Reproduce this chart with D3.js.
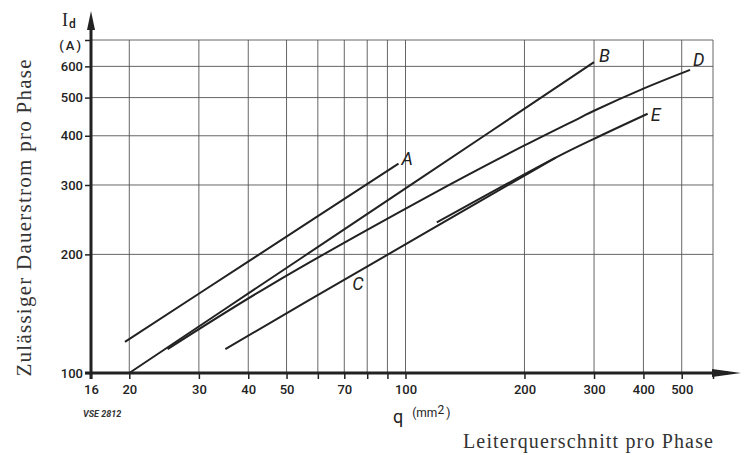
<!DOCTYPE html>
<html>
<head>
<meta charset="utf-8">
<script src="https://cdn.jsdelivr.net/npm/d3@7"></script>
<style>
  body { margin: 0; background: #fff; }
  .tick text { font-family: Roboto, sans-serif; font-weight: 500; font-size: 13px; fill: #222; }
  .curve-label { font-family: Roboto, sans-serif; font-style: italic; font-size: 18px; fill: #222; }
  .serif { font-family: "Liberation Serif", "Times New Roman", serif; fill: #333; }
</style>
</head>
<body>
<script>
// Cross-section q (mm2) against permitted continuous current Id (A), log-log
var xTicks = [16, 20, 30, 40, 50, 60, 70, 80, 90, 100, 200, 300, 400, 500, 600];
var xLabels = [16, 20, 30, 40, 50, 70, 100, 200, 300, 400, 500];
var yTicks = [100, 200, 300, 400, 500, 600, 700];
var yLabels = ["100", "200", "300", "400", "500", "600", "(A)"];

var curveNames = ["A", "B", "C", "D", "E"];
var curveA = [[19.5, 120], [42, 198], [96, 340]];
var curveB = [[20, 100], [55, 197], [102, 298], [300, 615]];
var curveC = [[35, 115], [57, 153], [115, 230], [200, 317], [240, 352]];
var curveD = [[25, 115], [45, 166], [115, 282], [200, 378], [277, 445], [300, 463], [400, 527], [525, 588]];
var curveE = [[120, 241], [240, 352], [300, 393], [410, 455]];
var curves = [curveA, curveB, curveC, curveD, curveE];

var w = 751;
var h = 455;

var svg = d3.select("body")
    .append("svg")
    .attr("width", w)
    .attr("height", h);

// log scales for both axes
var xScale = d3.scaleLog()
    .domain([16, 600])
    .range([91, 713]);
var yScale = d3.scaleLog()
    .domain([100, 700])
    .range([373, 40]);

// grid
svg.append("g")
    .selectAll("line")
    .data(xTicks.slice(1))
    .enter()
    .append("line")
    .attr("x1", function(d) { return xScale(d); })
    .attr("x2", function(d) { return xScale(d); })
    .attr("y1", yScale(700))
    .attr("y2", yScale(100))
    .attr("stroke", "#555")
    .attr("stroke-width", 0.9);

svg.append("g")
    .selectAll("line")
    .data(yTicks.slice(1))
    .enter()
    .append("line")
    .attr("x1", xScale(16))
    .attr("x2", xScale(600))
    .attr("y1", function(d) { return yScale(d); })
    .attr("y2", function(d) { return yScale(d); })
    .attr("stroke", "#555")
    .attr("stroke-width", 0.9);

// x axis ticks and labels
var xAxis = svg.append("g")
    .attr("transform", "translate(0," + yScale(100) + ")")
    .call(d3.axisBottom(xScale)
      .tickValues(xTicks)
      .tickSize(6)
      .tickPadding(6)
      .tickFormat(function(d) { return xLabels.indexOf(d) >= 0 ? d : ""; }));
xAxis.select(".domain").remove();
xAxis.selectAll(".tick line").attr("stroke", "#222").attr("stroke-width", 1.5);

// y axis ticks and labels
var yAxis = svg.append("g")
    .attr("transform", "translate(" + xScale(16) + ",0)")
    .call(d3.axisLeft(yScale)
      .tickValues(yTicks)
      .tickSize(6)
      .tickPadding(2)
      .tickFormat(function(d, i) { return yLabels[i]; }));
yAxis.select(".domain").remove();
yAxis.selectAll(".tick line").attr("stroke", "#222").attr("stroke-width", 1.5);
yAxis.selectAll(".tick").filter(function(d) { return d === 700; })
    .select("text")
    .attr("dy", "0.75em")
    .style("letter-spacing", "2px");

// thick axis lines with arrows
svg.append("line")
    .attr("x1", xScale(16) - 6).attr("x2", 728)
    .attr("y1", yScale(100)).attr("y2", yScale(100))
    .attr("stroke", "#222").attr("stroke-width", 3);
svg.append("path")
    .attr("d", "M712," + (yScale(100) - 4) + "L741," + yScale(100) + "L712," + (yScale(100) + 4) + "Z")
    .attr("fill", "#222");

svg.append("line")
    .attr("x1", xScale(16)).attr("x2", xScale(16))
    .attr("y1", yScale(100) + 6).attr("y2", 24)
    .attr("stroke", "#222").attr("stroke-width", 3);
svg.append("path")
    .attr("d", "M" + (xScale(16) - 4) + ",30L" + xScale(16) + ",11L" + (xScale(16) + 4) + ",30Z")
    .attr("fill", "#222");

// curves
var line = d3.line()
    .x(function(d) { return xScale(d[0]); })
    .y(function(d) { return yScale(d[1]); })
    .curve(d3.curveCatmullRom.alpha(0.5));

svg.selectAll(".curve")
    .data(curves)
    .enter()
    .append("path")
    .attr("class", "curve")
    .attr("d", line)
    .attr("fill", "none")
    .attr("stroke", "#222")
    .attr("stroke-width", 2);

// curve labels: at the end of each curve, C sits under its line
var labelOffsets = [[3, 1], [5, 0], [0, 0], [3, -4], [3, 7]];
svg.selectAll(".curve-label")
    .data(curveNames)
    .enter()
    .append("text")
    .attr("class", "curve-label")
    .attr("x", function(d, i) {
      if (d === "C") return xScale(70) + 8;
      var p = curves[i][curves[i].length - 1];
      return xScale(p[0]) + labelOffsets[i][0];
    })
    .attr("y", function(d, i) {
      if (d === "C") return yScale(162);
      var p = curves[i][curves[i].length - 1];
      return yScale(p[1]) + labelOffsets[i][1];
    })
    .text(function(d) { return d; });

// axis symbols
svg.append("text")
    .attr("x", 62).attr("y", 26)
    .attr("class", "serif")
    .style("font-size", "18px")
    .style("fill", "#222")
    .text("I");
svg.append("text")
    .attr("x", 69).attr("y", 28)
    .style("font-family", "Roboto, sans-serif")
    .style("font-weight", 500)
    .style("font-size", "12px")
    .style("fill", "#222")
    .text("d");

var qLabel = svg.append("text")
    .attr("x", 393).attr("y", 423)
    .style("font-family", "Roboto, sans-serif")
    .style("fill", "#222");
qLabel.append("tspan").style("font-size", "18px").text("q");
qLabel.append("tspan").attr("dx", 9).attr("dy", -6).style("font-size", "12px").text("(mm");
qLabel.append("tspan").attr("dy", -3).style("font-size", "12px").text("2");
qLabel.append("tspan").attr("dx", 2).attr("dy", 3).style("font-size", "12px").text(")");

svg.append("text")
    .attr("x", 83).attr("y", 417)
    .style("font-family", "Roboto, sans-serif")
    .style("font-style", "italic")
    .style("font-weight", "bold")
    .style("font-size", "9px")
    .style("fill", "#333")
    .text("VSE 2812");

// titles
svg.append("text")
    .attr("class", "serif")
    .attr("transform", "translate(31,218) rotate(-90)")
    .attr("text-anchor", "middle")
    .attr("textLength", 317)
    .attr("lengthAdjust", "spacing")
    .style("font-size", "21px")
    .text("Zulässiger Dauerstrom pro Phase");

svg.append("text")
    .attr("class", "serif")
    .attr("x", 463).attr("y", 448)
    .attr("textLength", 250)
    .attr("lengthAdjust", "spacing")
    .style("font-size", "20px")
    .text("Leiterquerschnitt pro Phase");
</script>
</body>
</html>
